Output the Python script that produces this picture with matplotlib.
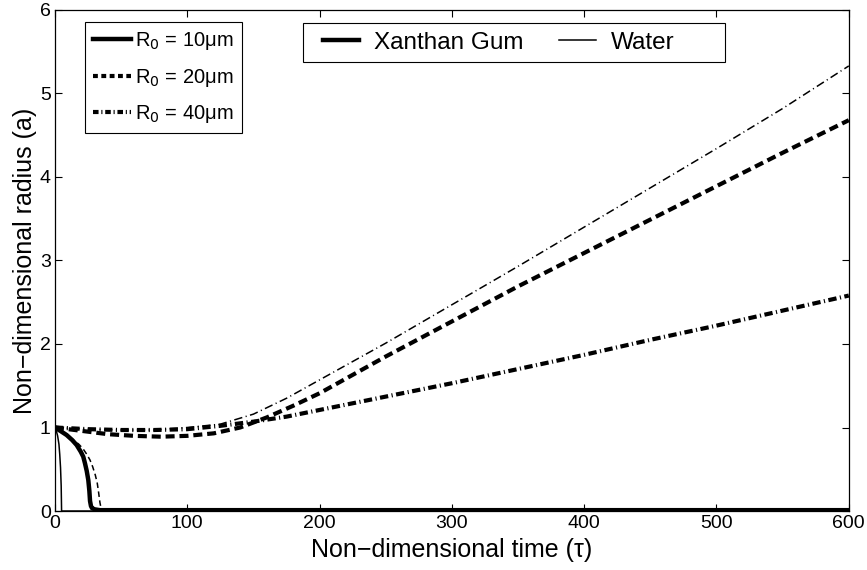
import matplotlib
matplotlib.use("Agg")
import matplotlib.pyplot as plt
from matplotlib.lines import Line2D
from matplotlib.patches import Rectangle

plt.rcParams['font.family'] = ['Liberation Sans', 'DejaVu Sans']
plt.rcParams['lines.scale_dashes'] = False

# Xanthan Gum (thick lines)
xg10_t = [0, 4, 8.8, 13, 16.4, 19.5, 21.4, 22.7, 24, 25.2, 26, 26.5, 27.2, 28, 30, 34, 60, 300, 600]
xg10_a = [1.0, 0.96, 0.91, 0.85, 0.79, 0.71, 0.65, 0.57, 0.48, 0.37, 0.24, 0.12, 0.06, 0.035, 0.02, 0.01, 0.01, 0.01, 0.01]
xg20_t = [0, 20, 40, 60, 80, 100, 120, 140, 160, 180, 200, 250, 300, 350, 400, 450, 500, 550, 600]
xg20_a = [1.0, 0.96, 0.92, 0.90, 0.89, 0.90, 0.93, 1.0, 1.12, 1.26, 1.41, 1.85, 2.27, 2.69, 3.09, 3.49, 3.89, 4.29, 4.68]
xg40_t = [0, 25, 50, 75, 100, 125, 150, 175, 200, 250, 300, 350, 400, 450, 500, 550, 600]
xg40_a = [1.0, 0.98, 0.97, 0.97, 0.98, 1.02, 1.07, 1.13, 1.21, 1.37, 1.53, 1.70, 1.87, 2.05, 2.22, 2.40, 2.58]

# Water (thin lines)
w10_t = [0, 1, 2, 3, 3.6, 4.2, 4.7, 5, 6, 600]
w10_a = [1.0, 0.96, 0.9, 0.8, 0.68, 0.52, 0.3, 0.0, 0.0, 0.0]
w20_t = [0, 5, 10, 14, 18, 21, 24, 26.5, 28.5, 30.5, 32, 33, 34, 35, 36, 600]
w20_a = [1.0, 0.95, 0.9, 0.85, 0.8, 0.75, 0.68, 0.61, 0.53, 0.43, 0.33, 0.22, 0.1, 0.02, 0.0, 0.0]
w40_t = [0, 25, 50, 75, 100, 125, 150, 175, 200, 250, 300, 350, 400, 450, 500, 550, 600]
w40_a = [1.0, 0.98, 0.97, 0.97, 1.0, 1.04, 1.16, 1.35, 1.57, 2.01, 2.47, 2.93, 3.40, 3.87, 4.34, 4.82, 5.33]

radius_labels = [r'R$_0$ = 10μm', r'R$_0$ = 20μm', r'R$_0$ = 40μm']
fluid_labels = ['Xanthan Gum', 'Water']

THICK = 3.0
THIN = 1.1
dash_thick = (0, (6.5, 3.5))
dashdot_thick = (0, (6, 2.5, 0.8, 2.5))
dash_thin = (0, (4, 2.5))
dashdot_thin = (0, (6, 2.5, 0.8, 2.5))

fig = plt.figure(figsize=(8.67, 5.70), dpi=100)
ax = fig.add_axes([0.0634, 0.1035, 0.9156, 0.879])

ax.plot(xg10_t, xg10_a, color='k', lw=THICK + 0.2)
ax.plot(xg20_t, xg20_a, color='k', lw=THICK, linestyle=dash_thick)
ax.plot(xg40_t, xg40_a, color='k', lw=THICK, linestyle=dashdot_thick)
ax.plot(w10_t, w10_a, color='k', lw=THIN)
ax.plot(w20_t, w20_a, color='k', lw=THIN, linestyle=dash_thin)
ax.plot(w40_t, w40_a, color='k', lw=THIN, linestyle=dashdot_thin)

ax.set_xlim(0, 600)
ax.set_ylim(0, 6)
ax.set_xticks(range(0, 601, 100))
ax.set_yticks(range(0, 7))
ax.tick_params(direction='in', top=True, right=True, labelsize=14, length=5, width=0.8, pad=3)
for s in ax.spines.values():
    s.set_linewidth(0.9)

ax.set_xlabel('Non\u2212dimensional time (τ)', fontsize=18, labelpad=4)
ax.set_ylabel('Non\u2212dimensional radius (a)', fontsize=18, labelpad=2)

# legend for initial radius
r_handles = [
    Line2D([], [], color='k', lw=THICK + 0.2),
    Line2D([], [], color='k', lw=THICK, linestyle=(0, (3.5, 2.5))),
    Line2D([], [], color='k', lw=THICK, linestyle=(0, (4, 2, 0.8, 2))),
]
leg1 = ax.legend(r_handles, radius_labels, loc='upper left', bbox_to_anchor=(0.038, 0.976),
                 fontsize=14.5, handlelength=1.9, handletextpad=0.2, labelspacing=0.72,
                 borderpad=0.4, borderaxespad=0, fancybox=False, framealpha=1)
leg1.get_frame().set_edgecolor('k')
leg1.get_frame().set_linewidth(0.8)
ax.add_artist(leg1)

# legend for fluid, with its box drawn separately
ax.add_patch(Rectangle((0.3123, 0.896), 0.5315, 0.078, transform=ax.transAxes,
                       facecolor='white', edgecolor='k', lw=0.8, zorder=4))
f_handles = [Line2D([], [], color='k', lw=THICK + 0.2), Line2D([], [], color='k', lw=THIN)]
leg2 = ax.legend(f_handles, fluid_labels, loc='center left', bbox_to_anchor=(0.3375, 0.935),
                 ncol=2, fontsize=17.5, handlelength=1.5, handletextpad=0.62, columnspacing=1.45,
                 borderpad=0, borderaxespad=0, frameon=False)
leg2.set_zorder(5)

fig.savefig('out.png', dpi=100)
